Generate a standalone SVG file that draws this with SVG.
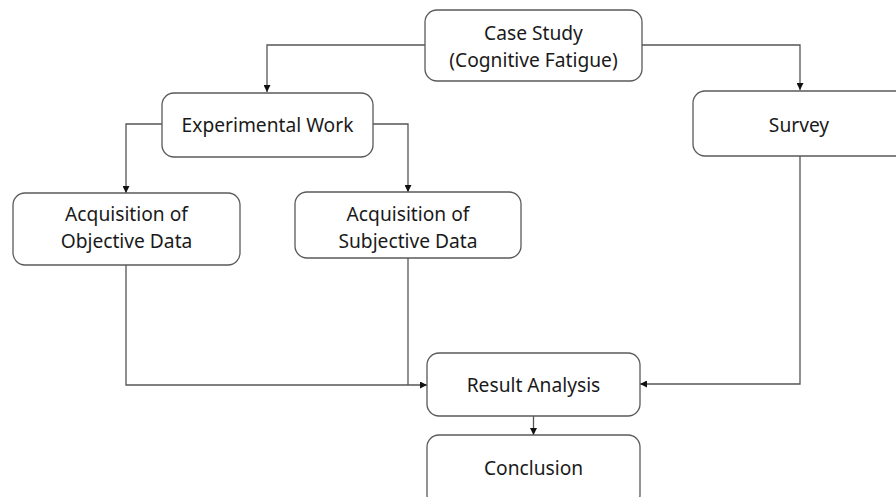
<svg xmlns="http://www.w3.org/2000/svg" width="896" height="497" viewBox="0 0 896 497">
  <defs>
    <marker id="arr" viewBox="0 0 10 10" refX="10" refY="5" markerWidth="7" markerHeight="7" markerUnits="userSpaceOnUse" orient="auto">
      <path d="M0,0 L10,5 L0,10 z" fill="#111"/>
    </marker>
    <style>
      .box { fill: #fff; stroke: #5a5a5a; stroke-width: 1.3; }
      .lbl { font-family: "Noto Sans", "DejaVu Sans", sans-serif; font-size: 19.2px; fill: #1a1a1a; text-anchor: middle; }
      .con { fill: none; stroke: #555; stroke-width: 1.3; }
    </style>
  </defs>
  <rect width="896" height="497" fill="#fff"/>
  <g id="connectors">
    <path class="con" d="M425,45 H267 V92" marker-end="url(#arr)"/>
    <path class="con" d="M642,45 H800 V90" marker-end="url(#arr)"/>
    <path class="con" d="M162,124 H126 V193" marker-end="url(#arr)"/>
    <path class="con" d="M373,124 H408 V192" marker-end="url(#arr)"/>
    <path class="con" d="M126,265 V385 H427" marker-end="url(#arr)"/>
    <path class="con" d="M408,258 V385"/>
    <path class="con" d="M800,156 V384 H640" marker-end="url(#arr)"/>
    <path class="con" d="M533.5,416 V435" marker-end="url(#arr)"/>
  </g>
  <g id="case-study">
    <rect class="box" x="425" y="10" width="217" height="71" rx="12"/>
    <text class="lbl" x="533.5" y="40">Case Study</text>
    <text class="lbl" x="533.5" y="66.5">(Cognitive Fatigue)</text>
  </g>
  <g id="experimental-work">
    <rect class="box" x="162" y="93" width="211" height="64" rx="12"/>
    <text class="lbl" x="267.5" y="132">Experimental Work</text>
  </g>
  <g id="survey">
    <rect class="box" x="693" y="91" width="215" height="65" rx="12"/>
    <text class="lbl" x="799" y="132">Survey</text>
  </g>
  <g id="objective-data">
    <rect class="box" x="13" y="193" width="227" height="72" rx="12"/>
    <text class="lbl" x="126.5" y="221">Acquisition of</text>
    <text class="lbl" x="126.5" y="247.5">Objective Data</text>
  </g>
  <g id="subjective-data">
    <rect class="box" x="295" y="192" width="226" height="66" rx="12"/>
    <text class="lbl" x="408" y="221">Acquisition of</text>
    <text class="lbl" x="408" y="247.5">Subjective Data</text>
  </g>
  <g id="result-analysis">
    <rect class="box" x="427" y="353" width="213" height="63" rx="12"/>
    <text class="lbl" x="533.5" y="392">Result Analysis</text>
  </g>
  <g id="conclusion">
    <rect class="box" x="427" y="435" width="213" height="72" rx="12"/>
    <text class="lbl" x="533.5" y="475">Conclusion</text>
  </g>
</svg>
